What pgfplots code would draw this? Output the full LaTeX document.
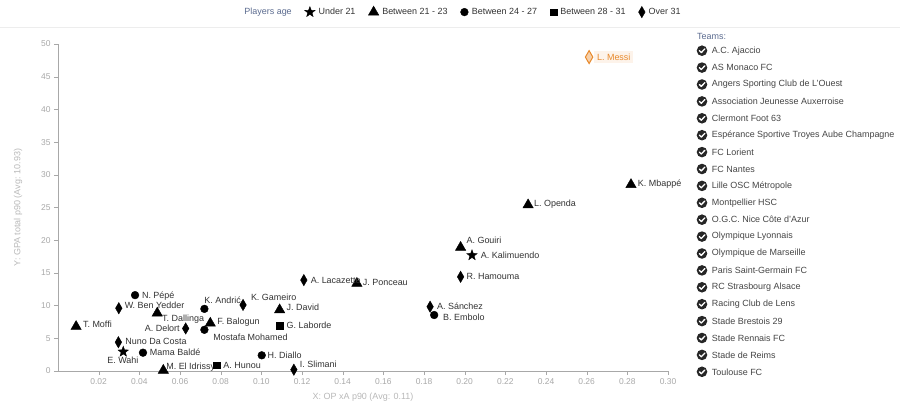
\documentclass[border=0pt]{standalone}
\usepackage{fontspec}
\setmainfont{Liberation Sans}
\usepackage{pgfplots}
\pgfplotsset{compat=1.18}
\usepackage{pgfplotstable}

\definecolor{axgray}{HTML}{A8A8A8}
\definecolor{lblgray}{HTML}{B8B8B8}
\definecolor{txt}{HTML}{333333}
\definecolor{teamtxt}{HTML}{454545}
\definecolor{slate}{HTML}{5B6B8F}
\definecolor{messi}{HTML}{E8892B}

% point labels: {dx}{dy}{text}, text starting (W) or ending (E) dx pt from the point
\protected\def\lblW#1#2#3{\smash{\rlap{\hspace*{#1pt}\raisebox{\dimexpr #2pt-3pt\relax}{#3}}}}
\protected\def\lblE#1#2#3{\smash{\llap{\raisebox{\dimexpr #2pt-3pt\relax}{#3}\hspace*{#1pt}}}}

% filled five-pointed star
\pgfdeclareplotmark{fstar}{%
  \pgfpathmoveto{\pgfpointpolar{90}{\pgfplotmarksize}}%
  \pgfpathlineto{\pgfpointpolar{126}{0.42\pgfplotmarksize}}%
  \pgfpathlineto{\pgfpointpolar{162}{\pgfplotmarksize}}%
  \pgfpathlineto{\pgfpointpolar{198}{0.42\pgfplotmarksize}}%
  \pgfpathlineto{\pgfpointpolar{234}{\pgfplotmarksize}}%
  \pgfpathlineto{\pgfpointpolar{270}{0.42\pgfplotmarksize}}%
  \pgfpathlineto{\pgfpointpolar{306}{\pgfplotmarksize}}%
  \pgfpathlineto{\pgfpointpolar{342}{0.42\pgfplotmarksize}}%
  \pgfpathlineto{\pgfpointpolar{18}{\pgfplotmarksize}}%
  \pgfpathlineto{\pgfpointpolar{54}{0.42\pgfplotmarksize}}%
  \pgfpathclose
  \pgfusepathqfillstroke}

% x = OP xA p90, y = GPA total p90
\pgfplotstableread[col sep=comma]{
x,y,label
0.2036,17.7,\lblW{9}{0}{A. Kalimuendo}
0.0321,2.95,\lblW{-16}{-9}{E. Wahi}
}\underA

\pgfplotstableread[col sep=comma]{
x,y,label
0.0089,6.8,\lblW{7}{2}{T. Moffi}
0.0488,8.85,\lblW{5}{-5}{T. Dallinga}
0.0749,7.3,\lblW{7}{2}{F. Balogun}
0.1090,9.35,\lblW{7}{2}{J. David}
0.0518,0.1,\lblW{3}{4}{M. El Idrissy}
0.1470,13.4,\lblW{6}{0.5}{J. Ponceau}
0.1980,18.9,\lblW{6}{6.5}{A. Gouiri}
0.2312,25.4,\lblW{6}{1}{L. Openda}
0.2818,28.5,\lblW{7}{1.5}{K. Mbappé}
}\betweenA

\pgfplotstableread[col sep=comma]{
x,y,label
0.0379,11.6,\lblW{7}{0}{N. Pépé}
0.0720,9.5,\lblW{0}{8}{K. Andrić}
0.0720,6.3,\lblW{9}{-8}{Mostafa Mohamed}
0.0418,2.8,\lblW{7}{0}{Mama Baldé}
0.1002,2.4,\lblW{6}{0}{H. Diallo}
0.1850,8.56,\lblW{9}{-3}{B. Embolo}
}\betweenB

\pgfplotstableread[col sep=comma]{
x,y,label
0.1090,6.9,\lblW{7}{0}{G. Laborde}
0.0779,0.9,\lblW{7}{0}{A. Hunou}
}\betweenC

\pgfplotstableread[col sep=comma]{
x,y,label
0.0299,9.6,\lblW{6}{3}{W. Ben Yedder}
0.0297,4.4,\lblW{7}{1}{Nuno Da Costa}
0.0628,6.5,\lblE{6}{0}{A. Delort}
0.0910,10.1,\lblW{8}{7}{K. Gameiro}
0.1209,13.9,\lblW{7}{0}{A. Lacazette}
0.1160,0.2,\lblW{6}{5}{I. Slimani}
0.1830,9.83,\lblW{7}{0}{A. Sánchez}
0.1980,14.4,\lblW{6}{0}{R. Hamouma}
}\overA

\pgfplotstableread[col sep=comma]{
x,y,label
0.2612,48.0,\lblW{5}{0}{\colorbox{messi!10}{L. Messi}}
}\messiT

\begin{document}
\begin{tikzpicture}
\path[use as bounding box] (0,0) rectangle (900bp,408bp);
\begin{axis}[
  at={(58bp,37bp)}, anchor=south west,
  scale only axis, width=610bp, height=327bp,
  xmin=0, xmax=0.30, ymin=0, ymax=50,
  clip=false,
  axis lines=left,
  axis line style={draw=axgray,-},
  tick style={draw=axgray},
  tick align=outside,
  major tick length=4bp,
  xtick={0.02,0.04,0.06,0.08,0.10,0.12,0.14,0.16,0.18,0.20,0.22,0.24,0.26,0.28,0.30},
  ytick={0,5,10,15,20,25,30,35,40,45,50},
  xticklabel style={/pgf/number format/.cd,fixed,fixed zerofill,precision=2,assume math mode=true},
  yticklabel style={/pgf/number format/assume math mode=true},
  tick label style={font=\fontsize{8.5}{10}\selectfont, text=axgray},
  scaled x ticks=false,
  xlabel={X: OP xA p90 (Avg: 0.11)},
  ylabel={Y: GPA total p90 (Avg: 10.93)},
  label style={font=\fontsize{9}{10}\selectfont, text=lblgray},
  xlabel style={at={(axis description cs:0.5,-0.0795)},anchor=center},
  ylabel style={at={(axis description cs:-0.0656,0.5)},anchor=center},
  lab/.style={only marks, black,
    point meta=explicit symbolic,
    nodes near coords,
    every node near coord/.append style={font=\fontsize{9}{10}\selectfont, text=txt,
      inner sep=0pt, anchor=center}},
  lg/.style={only marks, black, legend image code/.code={\draw[mark repeat=2,mark phase=2] plot coordinates {(0pt,0pt)(4pt,0pt)(8pt,0pt)};}},
  legend columns=-1,
  legend style={at={(0.661,1.098)}, anchor=center, draw=none, fill=none,
    font=\fontsize{9}{10}\selectfont, text=txt,
    nodes={inner sep=1pt},
    /tikz/every odd column/.append style={column sep=2.5pt},
    /tikz/every even column/.append style={column sep=12pt}},
]
\addlegendimage{empty legend}
\addlegendentry{\textcolor{slate}{Players age}}
\addlegendimage{lg, mark=fstar, mark size=5.5}
\addlegendentry{Under 21}
\addlegendimage{lg, mark=triangle*, mark size=6}
\addlegendentry{Between 21 - 23}
\addlegendimage{lg, mark=*, mark size=3.9}
\addlegendentry{Between 24 - 27}
\addlegendimage{lg, mark=square*, mark size=3.4}
\addlegendentry{Between 28 - 31}
\addlegendimage{lg, mark=diamond*, mark size=4.4, mark options={yscale=1.3}}
\addlegendentry{Over 31}

\addplot[forget plot, lab, mark=fstar, mark size=5.5] table[x=x,y=y,meta=label]{\underA};
\addplot[forget plot, lab, mark=triangle*, mark size=6] table[x=x,y=y,meta=label]{\betweenA};
\addplot[forget plot, lab, mark=*, mark size=3.9] table[x=x,y=y,meta=label]{\betweenB};
\addplot[forget plot, lab, mark=square*, mark size=3.4] table[x=x,y=y,meta=label]{\betweenC};
\addplot[forget plot, lab, mark=diamond*, mark size=4.4, mark options={yscale=1.3}] table[x=x,y=y,meta=label]{\overA};
\addplot[forget plot, lab, mark=diamond*, mark size=5, mark options={yscale=1.3, draw=messi, fill=messi!40, line width=1pt},
  every node near coord/.append style={text=messi}] table[x=x,y=y,meta=label]{\messiT};
\end{axis}

% separator below the age legend
\draw[black!7, line width=0.6pt] (0,381bp) -- (900bp,381bp);

% team filter list
\begin{scope}[x=1bp, y=-1bp, yshift=408bp, font=\fontsize{9}{10}\selectfont]
\node[anchor=west, text=slate, inner sep=0pt] at (697,36.7) {Teams:};
\foreach \t [count=\i from 0] in {A.C. Ajaccio, AS Monaco FC, Angers Sporting Club de L'Ouest,
  Association Jeunesse Auxerroise, Clermont Foot 63, Espérance Sportive Troyes Aube Champagne,
  FC Lorient, FC Nantes, Lille OSC Métropole, Montpellier HSC, O.G.C. Nice Côte d'Azur,
  Olympique Lyonnais, Olympique de Marseille, Paris Saint-Germain FC, RC Strasbourg Alsace,
  Racing Club de Lens, Stade Brestois 29, Stade Rennais FC, Stade de Reims, Toulouse FC} {
  \pgfmathsetmacro\yy{50.7+16.9*\i}
  \fill[black!85] (702,\yy) circle (5.3);
  \draw[white, line width=1.3bp, line cap=round, line join=round]
    (699.4,\yy) -- (701.3,\yy+1.9) -- (704.8,\yy-1.8);
  \node[anchor=west, text=teamtxt, inner sep=0pt] at (711.7,\yy) {\t};
}
\end{scope}
\end{tikzpicture}
\end{document}
